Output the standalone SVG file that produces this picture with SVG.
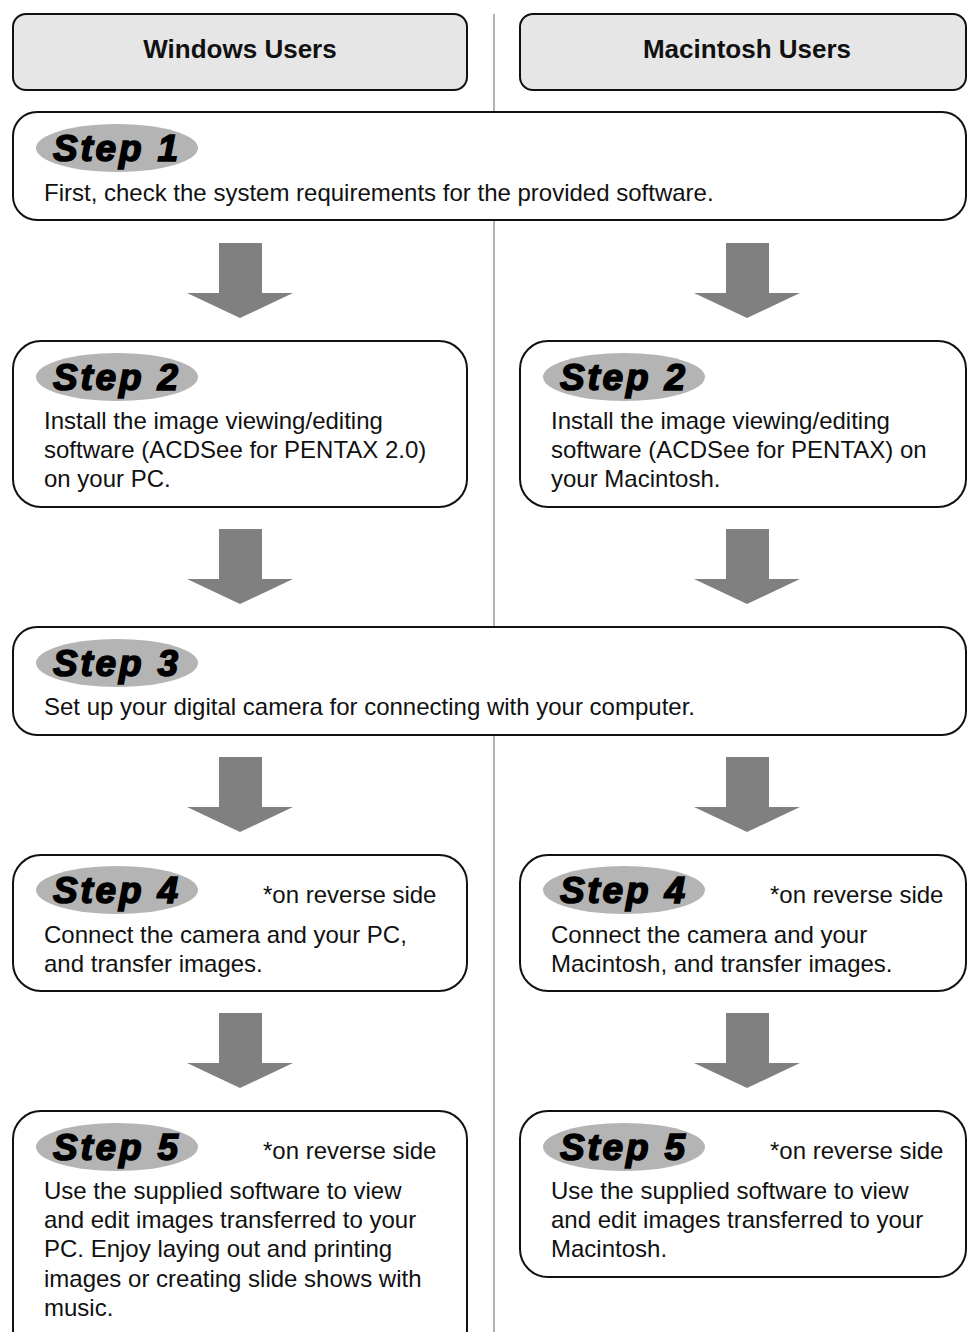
<svg xmlns="http://www.w3.org/2000/svg" width="967" height="1332" viewBox="0 0 967 1332">
<style>
.hdr{fill:#e6e6e6;stroke:#111;stroke-width:2}
.box{fill:#fff;stroke:#111;stroke-width:2}
.pill{fill:#b4b4b4}
.step{font-family:"Liberation Sans",Arial,sans-serif;font-weight:bold;font-style:italic;font-size:37px;fill:#000;stroke:#000;stroke-width:1.6}
.ht{font-family:"Liberation Sans",Arial,sans-serif;font-weight:bold;font-size:26px;fill:#111;text-anchor:middle}
.t{font-family:"Liberation Sans",Arial,sans-serif;font-size:24px;fill:#111}
.arr{fill:#808080}
</style>
<defs>
<path id="arrow" d="M-21,0 H22 V50 H53 L0,75 L-53,50 H-21 Z"/>
</defs>
<line x1="494" y1="14" x2="494" y2="1332" stroke="#999" stroke-width="1.5"/>

<g id="connectors">
<use href="#arrow" class="arr" x="240" y="243"/>
<use href="#arrow" class="arr" x="747" y="243"/>
<use href="#arrow" class="arr" x="240" y="529"/>
<use href="#arrow" class="arr" x="747" y="529"/>
<use href="#arrow" class="arr" x="240" y="757"/>
<use href="#arrow" class="arr" x="747" y="757"/>
<use href="#arrow" class="arr" x="240" y="1013"/>
<use href="#arrow" class="arr" x="747" y="1013"/>
</g>

<g id="hdr-win">
<rect class="hdr" x="13" y="14" width="454" height="76" rx="13"/>
<text class="ht" x="240" y="58">Windows Users</text>
</g>
<g id="hdr-mac">
<rect class="hdr" x="520" y="14" width="446" height="76" rx="13"/>
<text class="ht" x="747" y="58">Macintosh Users</text>
</g>

<g id="step1">
<rect class="box" x="13" y="112" width="953" height="108" rx="24"/>
<ellipse class="pill" cx="117" cy="148" rx="81" ry="24"/>
<text class="step" x="53" y="161" textLength="125" lengthAdjust="spacing">Step 1</text>
<text class="t" x="44" y="201">First, check the system requirements for the provided software.</text>
</g>

<g id="step2-win">
<rect class="box" x="13" y="341" width="454" height="166" rx="28"/>
<ellipse class="pill" cx="117" cy="377" rx="81" ry="24"/>
<text class="step" x="53" y="390" textLength="125" lengthAdjust="spacing">Step 2</text>
<text class="t" x="44" y="429">Install the image viewing/editing</text>
<text class="t" x="44" y="458">software (ACDSee for PENTAX 2.0)</text>
<text class="t" x="44" y="487">on your PC.</text>
</g>
<g id="step2-mac">
<rect class="box" x="520" y="341" width="446" height="166" rx="28"/>
<ellipse class="pill" cx="624" cy="377" rx="81" ry="24"/>
<text class="step" x="560" y="390" textLength="125" lengthAdjust="spacing">Step 2</text>
<text class="t" x="551" y="429">Install the image viewing/editing</text>
<text class="t" x="551" y="458">software (ACDSee for PENTAX) on</text>
<text class="t" x="551" y="487">your Macintosh.</text>
</g>

<g id="step3">
<rect class="box" x="13" y="627" width="953" height="108" rx="24"/>
<ellipse class="pill" cx="117" cy="663" rx="81" ry="24"/>
<text class="step" x="53" y="676" textLength="125" lengthAdjust="spacing">Step 3</text>
<text class="t" x="44" y="715">Set up your digital camera for connecting with your computer.</text>
</g>

<g id="step4-win">
<rect class="box" x="13" y="855" width="454" height="136" rx="28"/>
<ellipse class="pill" cx="117" cy="890" rx="81" ry="24"/>
<text class="step" x="53" y="903" textLength="125" lengthAdjust="spacing">Step 4</text>
<text class="t" x="263" y="903">*on reverse side</text>
<text class="t" x="44" y="943">Connect the camera and your PC,</text>
<text class="t" x="44" y="972">and transfer images.</text>
</g>
<g id="step4-mac">
<rect class="box" x="520" y="855" width="446" height="136" rx="28"/>
<ellipse class="pill" cx="624" cy="890" rx="81" ry="24"/>
<text class="step" x="560" y="903" textLength="125" lengthAdjust="spacing">Step 4</text>
<text class="t" x="770" y="903">*on reverse side</text>
<text class="t" x="551" y="943">Connect the camera and your</text>
<text class="t" x="551" y="972">Macintosh, and transfer images.</text>
</g>

<g id="step5-win">
<rect class="box" x="13" y="1111" width="454" height="250" rx="28"/>
<ellipse class="pill" cx="117" cy="1147" rx="81" ry="24"/>
<text class="step" x="53" y="1160" textLength="125" lengthAdjust="spacing">Step 5</text>
<text class="t" x="263" y="1159">*on reverse side</text>
<text class="t" x="44" y="1199">Use the supplied software to view</text>
<text class="t" x="44" y="1228">and edit images transferred to your</text>
<text class="t" x="44" y="1257">PC. Enjoy laying out and printing</text>
<text class="t" x="44" y="1287">images or creating slide shows with</text>
<text class="t" x="44" y="1316">music.</text>
</g>
<g id="step5-mac">
<rect class="box" x="520" y="1111" width="446" height="166" rx="28"/>
<ellipse class="pill" cx="624" cy="1147" rx="81" ry="24"/>
<text class="step" x="560" y="1160" textLength="125" lengthAdjust="spacing">Step 5</text>
<text class="t" x="770" y="1159">*on reverse side</text>
<text class="t" x="551" y="1199">Use the supplied software to view</text>
<text class="t" x="551" y="1228">and edit images transferred to your</text>
<text class="t" x="551" y="1257">Macintosh.</text>
</g>
</svg>
